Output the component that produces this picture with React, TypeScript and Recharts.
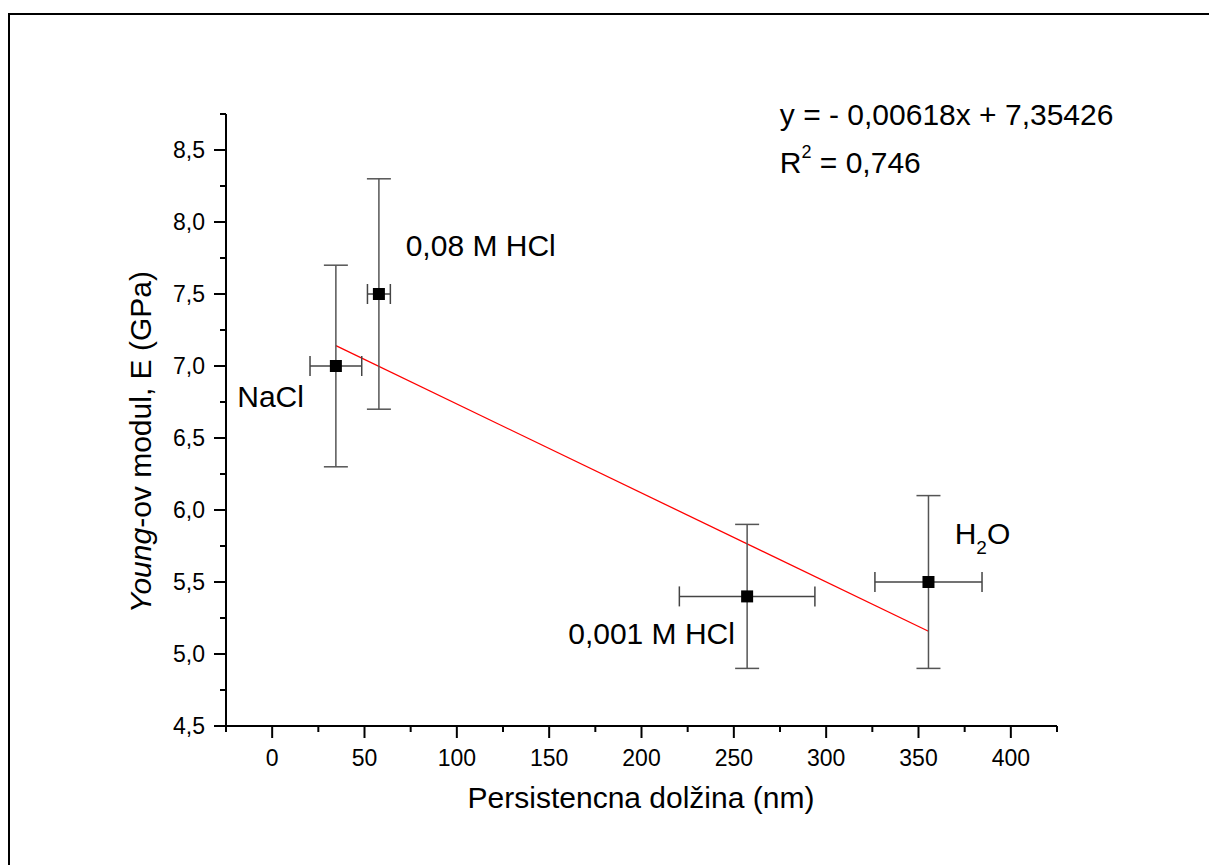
import React from 'react';
import { ScatterChart, Scatter, XAxis, YAxis, ErrorBar, ReferenceLine, ReferenceDot } from 'recharts';

// ---- data ----
const samples = ['NaCl', '0,08 M HCl', '0,001 M HCl', 'H2O'];
const persistenceLength = [34.5, 57.8, 257.2, 355.4];
const youngModulus = [7.0, 7.5, 5.4, 5.5];
const persistenceErr = [14, 6.2, 36.7, 29];
const modulusErr = [0.7, 0.8, 0.5, 0.6];

const xTicks = [-25, 0, 25, 50, 75, 100, 125, 150, 175, 200, 225, 250, 275, 300, 325, 350, 375, 400, 425];
const xMajorTicks = [0, 50, 100, 150, 200, 250, 300, 350, 400];
const yTicks = [4.5, 4.75, 5, 5.25, 5.5, 5.75, 6, 6.25, 6.5, 6.75, 7, 7.25, 7.5, 7.75, 8, 8.25, 8.5, 8.75];
const yMajorTicks = [4.5, 5, 5.5, 6, 6.5, 7, 7.5, 8, 8.5];

const fitSlope = -0.00618;
const fitIntercept = 7.35426;
const fitXRange = [34.5, 355.4];
const fitEquation = 'y = - 0,00618x + 7,35426';
const fitR2 = '0,746';

// annotation anchors (in data units)
const sampleLabelAnchors = [
  { x: 17.2, y: 6.715, anchor: 'end' },
  { x: 72.3, y: 7.764, anchor: 'start' },
  { x: 250.6, y: 5.069, anchor: 'end' },
  { x: 369.6, y: 5.764, anchor: 'start' },
];
const equationAnchor = { x: 274.9, y: 8.674 };
const r2Anchor = { x: 274.9, y: 8.34 };

const points = samples.map((s, i) => ({
  name: s,
  x: persistenceLength[i],
  y: youngModulus[i],
  xErr: persistenceErr[i],
  yErr: modulusErr[i],
}));

const fitSegment = fitXRange.map((x) => ({ x, y: fitSlope * x + fitIntercept }));

const FONT = '"Liberation Sans", Arial, sans-serif';
const LABEL_SIZE = 30;

const fmtY = (v: number) => v.toFixed(1).replace('.', ',');

const XTick = (props: any) => {
  const { x, y, payload } = props;
  const v = payload.value;
  const major = xMajorTicks.includes(v);
  return (
    <g>
      <line x1={x} x2={x} y1={y} y2={y + (major ? 12 : 6)} stroke="#000" strokeWidth={2} />
      {major && (
        <text x={x} y={y + 40} textAnchor="middle" fontSize={23} fontFamily={FONT} fill="#000">
          {v}
        </text>
      )}
    </g>
  );
};

const YTick = (props: any) => {
  const { x, y, payload } = props;
  const v = payload.value;
  const major = yMajorTicks.some((m) => Math.abs(m - v) < 1e-6);
  return (
    <g>
      <line x1={x} x2={x - (major ? 12 : 6)} y1={y} y2={y} stroke="#000" strokeWidth={2} />
      {major && (
        <text x={x - 21} y={y + 8} textAnchor="end" fontSize={23} fontFamily={FONT} fill="#000">
          {fmtY(v)}
        </text>
      )}
    </g>
  );
};

const Square = (props: any) => {
  const { cx, cy } = props;
  return <rect x={cx - 6} y={cy - 6} width={12} height={12} fill="#000" />;
};

const renderSampleLabel = (i: number) => (p: any) => {
  const a = sampleLabelAnchors[i];
  const name = samples[i];
  if (name === 'H2O') {
    return (
      <text x={p.cx} y={p.cy} textAnchor={a.anchor} fontSize={LABEL_SIZE} fontFamily={FONT} fill="#000">
        H<tspan fontSize={19} dy={10}>2</tspan><tspan dy={-10}>O</tspan>
      </text>
    );
  }
  return (
    <text x={p.cx} y={p.cy} textAnchor={a.anchor} fontSize={LABEL_SIZE} fontFamily={FONT} fill="#000">
      {name}
    </text>
  );
};

const W = 1209;
const H = 857;

export default function App() {
  return (
    <div style={{ position: 'relative', width: W, height: H, background: '#fff' }}>
      <div
        style={{
          position: 'absolute',
          left: 0,
          top: 5,
          right: 0,
          bottom: 0,
          borderTop: '2px solid #000',
          borderLeft: '2px solid #000',
        }}
      />
      <div style={{ position: 'absolute', left: 0, top: 0 }}>
        <ScatterChart
          width={W}
          height={H}
          margin={{ top: 106, left: 158, right: 160, bottom: 109 }}
        >
          <XAxis
            type="number"
            dataKey="x"
            domain={[-25, 425]}
            ticks={xTicks}
            interval={0}
            allowDataOverflow
            height={30}
            tickSize={0}
            tickMargin={0}
            tickLine={false}
            axisLine={{ stroke: '#000', strokeWidth: 2 }}
            tick={<XTick />}
          />
          <YAxis
            type="number"
            dataKey="y"
            domain={[4.5, 8.75]}
            ticks={yTicks}
            interval={0}
            allowDataOverflow
            width={60}
            tickSize={0}
            tickMargin={0}
            tickLine={false}
            axisLine={{ stroke: '#000', strokeWidth: 2 }}
            tick={<YTick />}
          />
          <ReferenceLine
            segment={fitSegment}
            stroke="#ff0000"
            strokeWidth={1.3}
            ifOverflow="visible"
          />
          <Scatter data={points} isAnimationActive={false} shape={<Square />}>
            <ErrorBar dataKey="yErr" direction="y" width={12} stroke="#555" strokeWidth={1.5} isAnimationActive={false} />
            <ErrorBar dataKey="xErr" direction="x" width={10} stroke="#444" strokeWidth={1.5} isAnimationActive={false} />
          </Scatter>
          {samples.map((s, i) => (
            <ReferenceDot
              key={s}
              x={sampleLabelAnchors[i].x}
              y={sampleLabelAnchors[i].y}
              r={0}
              ifOverflow="visible"
              shape={renderSampleLabel(i)}
            />
          ))}
          <ReferenceDot
            x={equationAnchor.x}
            y={equationAnchor.y}
            r={0}
            ifOverflow="visible"
            shape={(p: any) => (
              <text x={p.cx} y={p.cy} fontSize={LABEL_SIZE} fontFamily={FONT} fill="#000">
                {fitEquation}
              </text>
            )}
          />
          <ReferenceDot
            x={r2Anchor.x}
            y={r2Anchor.y}
            r={0}
            ifOverflow="visible"
            shape={(p: any) => (
              <text x={p.cx} y={p.cy} fontSize={LABEL_SIZE} fontFamily={FONT} fill="#000">
                R<tspan fontSize={18} dy={-15}>2</tspan>
                <tspan dy={15}>{' = ' + fitR2}</tspan>
              </text>
            )}
          />
        </ScatterChart>
      </div>
      <svg
        width={W}
        height={H}
        style={{ position: 'absolute', left: 0, top: 0, pointerEvents: 'none' }}
      >
        <text x={633} y={800} textAnchor="middle" fontSize={LABEL_SIZE} fontFamily={FONT} fill="#000">
          Persistencna dolžina (nm)
        </text>
        <text
          x={143}
          y={434}
          textAnchor="middle"
          fontSize={LABEL_SIZE}
          fontFamily={FONT}
          fill="#000"
          transform="rotate(-90 143 434)"
        >
          <tspan fontStyle="italic">Young</tspan>-ov modul, E (GPa)
        </text>
      </svg>
    </div>
  );
}
